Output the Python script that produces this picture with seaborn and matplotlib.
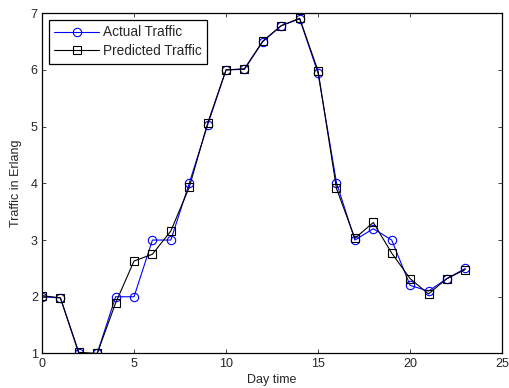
import numpy as np
import pandas as pd
import matplotlib
matplotlib.use("Agg")
import matplotlib.pyplot as plt
import seaborn as sns

hours = list(range(24))
actual = [2.0, 1.98, 1.0, 1.0, 2.0, 2.0, 3.0, 3.0, 4.0, 5.03, 6.0, 6.01,
          6.5, 6.78, 6.9, 5.94, 4.01, 3.0, 3.2, 3.0, 2.2, 2.1, 2.32, 2.5]
predicted = [2.02, 1.98, 1.02, 1.0, 1.89, 2.63, 2.75, 3.16, 3.93, 5.06, 6.0, 6.02,
             6.51, 6.78, 6.91, 5.98, 3.91, 3.03, 3.31, 2.77, 2.32, 2.05, 2.32, 2.48]

df = pd.DataFrame({"hour": hours, "actual": actual, "predicted": predicted})

sns.set_style("ticks")
plt.rcParams['font.family'] = ['Liberation Sans', 'DejaVu Sans']
plt.rcParams['xtick.direction'] = 'in'
plt.rcParams['ytick.direction'] = 'in'

fig = plt.figure(figsize=(5.09, 3.88), dpi=100)
ax = fig.add_axes([0.0825, 0.089, 0.904, 0.877])

sns.lineplot(data=df, x="hour", y="actual", ax=ax, color="blue", lw=0.8,
             marker="o", markersize=6, markerfacecolor="none",
             markeredgecolor="blue", markeredgewidth=0.8, label="Actual Traffic")
sns.lineplot(data=df, x="hour", y="predicted", ax=ax, color="black", lw=0.8,
             marker="s", markersize=6.3, markerfacecolor="none",
             markeredgecolor="black", markeredgewidth=0.8, label="Predicted Traffic")

ax.set_xlim(0, 25)
ax.set_ylim(1, 7)
ax.set_xticks(range(0, 26, 5))
ax.set_yticks(range(1, 8))
ax.tick_params(labelsize=9, length=3, width=0.6, top=True, right=True, pad=3)
for s in ax.spines.values():
    s.set_linewidth(0.9)
    s.set_color("black")
ax.set_xlabel("Day time", fontsize=9, labelpad=3)
ax.set_ylabel("Traffic in Erlang", fontsize=9, labelpad=6)

leg = ax.legend(loc="upper left", fontsize=9.8, frameon=True, fancybox=False,
                borderaxespad=0.5, handlelength=3.3, handletextpad=0.3,
                borderpad=0.4, labelspacing=0.35)
leg.get_frame().set_edgecolor("black")
leg.get_frame().set_linewidth(0.9)
leg.get_frame().set_alpha(1)

fig.savefig("out.png", dpi=100)
